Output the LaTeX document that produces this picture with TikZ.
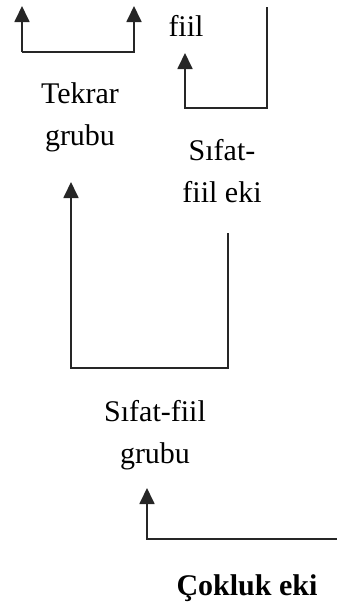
\documentclass[tikz,border=0pt]{standalone}
\usepackage{fontspec}
\setmainfont{Liberation Serif}
\usetikzlibrary{arrows.meta}
\begin{document}
\begin{tikzpicture}[x=1pt,y=-1pt,
  lbl/.style={font=\fontsize{30}{42}\selectfont, align=center, inner sep=0pt, text=black},
  conn/.style={draw=black!85, line width=1.8pt},
  arr/.style={conn, -{Triangle[width=15pt,length=16pt]}}]
\useasboundingbox (0,0) rectangle (337,608);
% nodes
\node[lbl] (tekrar) at (80,117) {Tekrar\\grubu};
\node[lbl, anchor=base] (fiil) at (186,36) {fiil};
\node[lbl] (sfe) at (222,171) {Sıfat-\\fiil eki};
\node[lbl] (sfg) at (155,435) {Sıfat-fiil\\grubu};
\node[lbl, anchor=base, font=\fontsize{30}{42}\selectfont\bfseries] (cokluk) at (247,595) {Çokluk eki};
% coordinates
\coordinate (t1) at (22,6);
\coordinate (t2) at (134,6);
\coordinate (b1) at (22,52);
\coordinate (b2) at (134,52);
\coordinate (fsrc) at (267,7);
\coordinate (fcorner) at (267,108);
\coordinate (ftip) at (185,53);
\coordinate (sstart) at (228,233);
\coordinate (tt) at (71,182);
\coordinate (cstart) at (337,539);
\coordinate (gt) at (147,488);
% connectors
\draw[arr] (b1) -- (t1);
\draw[arr] (b1) -- (b2) -- (t2);
\draw[arr] (fsrc) -- (fcorner) -| (ftip);
\draw[arr] (sstart) |- (71,368) -- (tt);
\draw[arr] (cstart) -| (gt);
\end{tikzpicture}
\end{document}
